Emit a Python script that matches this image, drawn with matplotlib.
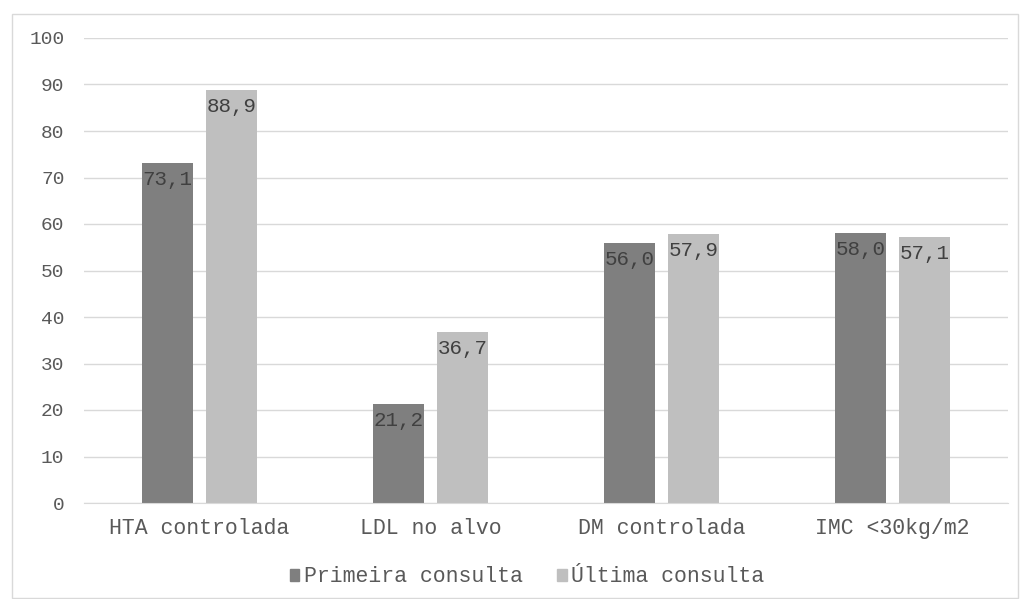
import numpy as np
import matplotlib.pyplot as plt
from matplotlib.patches import Rectangle

categorias = ['HTA controlada', 'LDL no alvo', 'DM controlada', 'IMC <30kg/m2']
primeira = [73.1, 21.2, 56.0, 58.0]
ultima = [88.9, 36.7, 57.9, 57.1]
series = ['Primeira consulta', 'Última consulta']
yticks = list(range(0, 101, 10))

cor_escura = '#7f7f7f'
cor_clara = '#bfbfbf'
cor_texto = '#595959'
cor_grelha = '#d9d9d9'
fonte = 'Liberation Mono'

fig = plt.figure(figsize=(10.23, 5.99), dpi=100)
ax = fig.add_axes([84 / 1023, 1 - 503 / 599, 924 / 1023, 465 / 599])

# moldura exterior
fig.patches.append(Rectangle((12 / 1023, 0.002), 1006 / 1023, 1 - 14 / 599 - 0.002,
                             transform=fig.transFigure, fill=False,
                             edgecolor=cor_grelha, linewidth=1))

x = np.arange(len(categorias))
w = 0.22
b1 = ax.bar(x - 0.14, primeira, w, color=cor_escura, zorder=2)
b2 = ax.bar(x + 0.14, ultima, w, color=cor_clara, zorder=2)

for barras, vals in [(b1, primeira), (b2, ultima)]:
    for r, v in zip(barras, vals):
        ax.annotate(f'{v:.1f}'.replace('.', ','), (r.get_x() + r.get_width() / 2, v),
                    xytext=(0, -5), textcoords='offset points', ha='center', va='top',
                    fontsize=15, family=fonte, color='#404040', zorder=3)

ax.set_xlim(-0.5, 3.5)
ax.set_ylim(0, 100)
ax.set_yticks(yticks)
ax.set_xticks(x)
ax.set_xticklabels(categorias)
ax.yaxis.grid(True, color=cor_grelha, linewidth=1)
ax.set_axisbelow(True)
for s in ['top', 'right', 'left']:
    ax.spines[s].set_visible(False)
ax.spines['bottom'].set_color(cor_grelha)
ax.tick_params(axis='both', length=0, labelsize=14, labelcolor=cor_texto)
ax.tick_params(axis='y', pad=14)
ax.tick_params(axis='x', pad=11, labelsize=15.5)
for lab in ax.get_xticklabels() + ax.get_yticklabels():
    lab.set_family(fonte)

handles = [Rectangle((0, 0), 1, 1, color=cor_escura), Rectangle((0, 0), 1, 1, color=cor_clara)]
fig.legend(handles, series, loc='center', bbox_to_anchor=(527 / 1023, 1 - 577 / 599),
           ncol=2, frameon=False, handlelength=0.45, handleheight=0.45, handletextpad=0.2,
           columnspacing=1.6, prop={'family': fonte, 'size': 15.5}, labelcolor=cor_texto)

fig.savefig('out.png', dpi=100)
